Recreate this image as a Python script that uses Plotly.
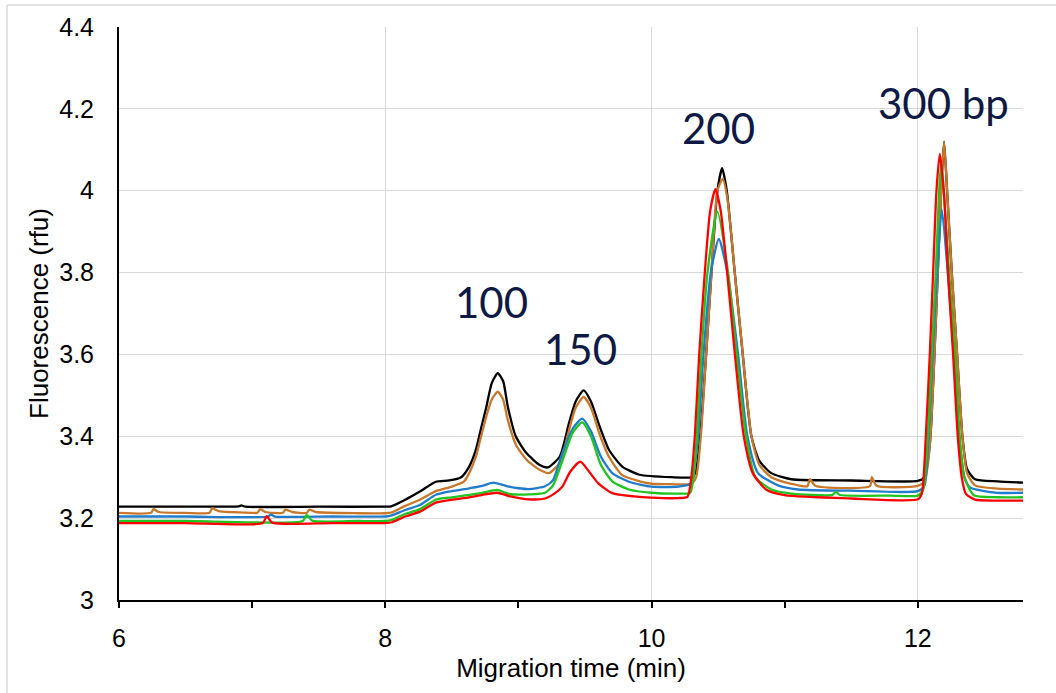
import plotly.graph_objects as go

# ---- data ----
black_x = [6.0, 6.4, 6.9, 6.92, 6.95, 7.5, 8.0, 8.045, 8.15, 8.26, 8.38, 8.48, 8.57, 8.63, 8.68, 8.72, 8.76, 8.80, 8.845, 8.885, 8.92, 8.98, 9.06, 9.16, 9.22, 9.31, 9.38, 9.43, 9.49, 9.545, 9.61, 9.68, 9.78, 9.91, 10.15, 10.30, 10.33, 10.365, 10.41, 10.45, 10.495, 10.53, 10.565, 10.625, 10.685, 10.75, 10.81, 10.9, 11.05, 11.5, 12.0, 12.05, 12.075, 12.095, 12.125, 12.15, 12.175, 12.197, 12.22, 12.255, 12.295, 12.335, 12.37, 12.43, 12.6, 12.79]
black_y = [3.228, 3.228, 3.229, 3.231, 3.228, 3.228, 3.228, 3.229, 3.245, 3.265, 3.289, 3.292, 3.300, 3.326, 3.367, 3.42, 3.473, 3.53, 3.554, 3.535, 3.473, 3.40, 3.359, 3.33, 3.324, 3.35, 3.432, 3.485, 3.512, 3.485, 3.424, 3.367, 3.326, 3.306, 3.300, 3.300, 3.31, 3.40, 3.60, 3.80, 4.00, 4.055, 4.00, 3.80, 3.60, 3.40, 3.34, 3.31, 3.295, 3.292, 3.291, 3.30, 3.34, 3.40, 3.60, 3.80, 4.00, 4.12, 4.00, 3.80, 3.60, 3.40, 3.32, 3.295, 3.29, 3.287]

orange_x = [6.0, 6.24, 6.26, 6.30, 6.5, 6.68, 6.70, 6.75, 7.0, 7.04, 7.06, 7.1, 7.23, 7.25, 7.3, 7.41, 7.43, 7.48, 7.8, 8.0, 8.05, 8.15, 8.26, 8.38, 8.5, 8.59, 8.63, 8.68, 8.72, 8.76, 8.80, 8.845, 8.885, 8.92, 8.98, 9.06, 9.16, 9.23, 9.31, 9.38, 9.43, 9.49, 9.545, 9.61, 9.68, 9.78, 9.91, 10.0, 10.15, 10.30, 10.335, 10.37, 10.41, 10.45, 10.495, 10.535, 10.57, 10.625, 10.685, 10.75, 10.81, 10.9, 11.05, 11.17, 11.19, 11.23, 11.64, 11.655, 11.69, 12.0, 12.05, 12.075, 12.095, 12.125, 12.15, 12.175, 12.197, 12.22, 12.255, 12.295, 12.335, 12.37, 12.43, 12.6, 12.79]
orange_y = [3.213, 3.213, 3.222, 3.215, 3.213, 3.213, 3.224, 3.217, 3.213, 3.213, 3.222, 3.215, 3.213, 3.221, 3.215, 3.213, 3.221, 3.215, 3.212, 3.212, 3.214, 3.230, 3.245, 3.266, 3.277, 3.289, 3.31, 3.35, 3.40, 3.45, 3.49, 3.509, 3.49, 3.44, 3.38, 3.343, 3.318, 3.31, 3.335, 3.415, 3.47, 3.496, 3.47, 3.405, 3.35, 3.305, 3.29, 3.284, 3.283, 3.284, 3.30, 3.40, 3.60, 3.80, 4.00, 4.029, 3.98, 3.80, 3.60, 3.40, 3.33, 3.30, 3.284, 3.278, 3.295, 3.279, 3.278, 3.30, 3.279, 3.279, 3.29, 3.33, 3.40, 3.60, 3.80, 4.00, 4.12, 4.00, 3.80, 3.60, 3.40, 3.31, 3.28, 3.272, 3.27]

blue_x = [6.0, 6.5, 7.12, 7.14, 7.17, 7.6, 8.0, 8.05, 8.15, 8.26, 8.38, 8.5, 8.63, 8.73, 8.81, 8.93, 9.0, 9.08, 9.2, 9.26, 9.33, 9.41, 9.48, 9.545, 9.62, 9.705, 9.83, 10.0, 10.2, 10.30, 10.325, 10.35, 10.39, 10.445, 10.505, 10.57, 10.65, 10.72, 10.80, 10.95, 11.1, 11.5, 12.0, 12.05, 12.08, 12.11, 12.145, 12.18, 12.225, 12.27, 12.31, 12.35, 12.39, 12.6, 12.79]
blue_y = [3.204, 3.204, 3.204, 3.209, 3.204, 3.204, 3.204, 3.207, 3.220, 3.232, 3.257, 3.266, 3.273, 3.279, 3.287, 3.277, 3.273, 3.271, 3.278, 3.293, 3.359, 3.42, 3.443, 3.412, 3.35, 3.31, 3.289, 3.277, 3.277, 3.285, 3.33, 3.40, 3.60, 3.80, 3.882, 3.80, 3.60, 3.40, 3.31, 3.28, 3.27, 3.267, 3.266, 3.28, 3.40, 3.60, 3.80, 3.955, 3.80, 3.60, 3.40, 3.30, 3.275, 3.262, 3.262]

green_x = [6.0, 6.5, 7.38, 7.41, 7.45, 7.8, 8.0, 8.05, 8.15, 8.26, 8.38, 8.5, 8.63, 8.73, 8.84, 8.93, 9.08, 9.2, 9.26, 9.33, 9.41, 9.48, 9.545, 9.62, 9.705, 9.83, 10.0, 10.2, 10.29, 10.315, 10.34, 10.375, 10.42, 10.495, 10.575, 10.64, 10.71, 10.78, 10.9, 11.05, 11.36, 11.385, 11.41, 11.8, 12.0, 12.04, 12.075, 12.105, 12.135, 12.16, 12.175, 12.195, 12.235, 12.28, 12.315, 12.35, 12.42, 12.6, 12.79]
green_y = [3.193, 3.193, 3.193, 3.208, 3.194, 3.193, 3.193, 3.196, 3.210, 3.222, 3.245, 3.251, 3.257, 3.262, 3.269, 3.259, 3.258, 3.262, 3.28, 3.34, 3.41, 3.434, 3.40, 3.33, 3.29, 3.27, 3.262, 3.260, 3.262, 3.30, 3.40, 3.60, 3.80, 3.949, 3.80, 3.60, 3.40, 3.30, 3.27, 3.26, 3.257, 3.265, 3.257, 3.255, 3.255, 3.27, 3.40, 3.60, 3.80, 4.00, 4.065, 4.00, 3.80, 3.60, 3.40, 3.30, 3.256, 3.251, 3.251]

red_x = [6.0, 6.5, 7.08, 7.11, 7.15, 7.6, 8.0, 8.05, 8.15, 8.26, 8.38, 8.5, 8.63, 8.73, 8.84, 8.93, 9.08, 9.2, 9.27, 9.33, 9.39, 9.465, 9.53, 9.6, 9.705, 9.87, 10.0, 10.2, 10.27, 10.295, 10.325, 10.358, 10.40, 10.44, 10.48, 10.52, 10.568, 10.626, 10.693, 10.76, 10.86, 11.0, 11.5, 12.0, 12.03, 12.06, 12.09, 12.115, 12.14, 12.165, 12.195, 12.227, 12.265, 12.30, 12.33, 12.36, 12.43, 12.6, 12.79]
red_y = [3.188, 3.188, 3.188, 3.205, 3.189, 3.188, 3.188, 3.190, 3.204, 3.216, 3.238, 3.245, 3.251, 3.257, 3.262, 3.254, 3.246, 3.248, 3.26, 3.277, 3.314, 3.338, 3.314, 3.285, 3.261, 3.253, 3.250, 3.249, 3.252, 3.29, 3.40, 3.60, 3.80, 3.95, 4.004, 3.95, 3.80, 3.60, 3.40, 3.31, 3.27, 3.256, 3.248, 3.246, 3.26, 3.40, 3.60, 3.80, 4.00, 4.09, 4.00, 3.80, 3.60, 3.40, 3.30, 3.26, 3.245, 3.243, 3.243]

peak_labels = ["100", "150", "200", "300 bp"]
peak_label_x = [8.80, 9.47, 10.50, 12.19]
peak_label_y = [3.728, 3.613, 4.153, 4.214]

x_range = [6, 12.79]
y_range = [3, 4.4]

series = [
    (black_x, black_y, "#000000"),
    (orange_x, orange_y, "#c8772b"),
    (blue_x, blue_y, "#1f7ccc"),
    (green_x, green_y, "#1fc41f"),
    (red_x, red_y, "#ff0000"),
]

fig = go.Figure()
for xs, ys, col in series:
    fig.add_trace(go.Scatter(x=xs, y=ys, mode="lines",
                             line=dict(color=col, width=2.3, shape="spline", smoothing=0.6),
                             showlegend=False, hoverinfo="skip"))

for t, xv, yv in zip(peak_labels, peak_label_x, peak_label_y):
    fig.add_annotation(x=xv, y=yv, text=t, showarrow=False,
                       xanchor="center", yanchor="middle",
                       font=dict(family="Lato, Open Sans, sans-serif", size=42, color="#0e1a45"))

# light outer frame (top and left edges)
fig.add_shape(type="line", xref="paper", yref="paper", x0=-0.1239, x1=1.05, y0=1.0384, y1=1.0384,
              line=dict(color="#d9d9d9", width=1.5))
fig.add_shape(type="line", xref="paper", yref="paper", x0=-0.1239, x1=-0.1239, y0=1.0384, y1=-0.2,
              line=dict(color="#d9d9d9", width=1.5))

fig.update_layout(
    width=1056, height=693,
    margin=dict(l=119, r=33, t=27, b=93),
    paper_bgcolor="white", plot_bgcolor="white",
    font=dict(family="Liberation Sans, Arial, sans-serif", color="#000000"),
)
fig.update_xaxes(range=x_range, dtick=2, tick0=6,
                 showline=True, linecolor="black", linewidth=2,
                 ticks="outside", ticklen=6, tickwidth=2, tickcolor="black",
                 minor=dict(ticks="outside", dtick=1, tick0=6, ticklen=6, tickwidth=2, tickcolor="black", showgrid=False),
                 showgrid=True, gridcolor="#d9d9d9", gridwidth=1,
                 zeroline=False, tickfont=dict(size=25), ticklabelstandoff=9,
                 title=dict(text="Migration time (min)", font=dict(size=26), standoff=8))
fig.update_yaxes(range=y_range, dtick=0.2, tick0=3,
                 showline=True, linecolor="black", linewidth=2,
                 ticks="", showgrid=True, gridcolor="#d9d9d9", gridwidth=1,
                 zeroline=False, tickfont=dict(size=25), ticklabelstandoff=18,
                 title=dict(text="Fluorescence (rfu)", font=dict(size=26), standoff=3))

fig.write_html("out.html")
